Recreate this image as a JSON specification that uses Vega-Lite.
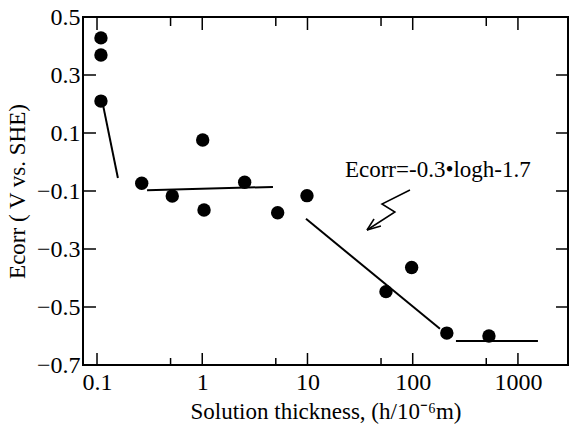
{
  "$schema": "https://vega.github.io/schema/vega-lite/v6.json",
  "autosize": "none",
  "width": 485,
  "height": 348,
  "padding": {"left": 83, "top": 17, "right": 2, "bottom": 65},
  "background": "white",
  "config": {
    "view": {"stroke": "black", "strokeWidth": 2},
    "font": "Liberation Serif",
    "axis": {"domain": false, "grid": false, "ticks": false, "labelColor": "black", "titleColor": "black", "labelFont": "Liberation Serif", "titleFont": "Liberation Serif", "labelFontSize": 24, "titleFontSize": 23, "titleFontWeight": "normal"}
  },
  "datasets": {
    "points": [
      {"h": 0.109, "E": 0.428},
      {"h": 0.109, "E": 0.369},
      {"h": 0.109, "E": 0.210},
      {"h": 0.266, "E": -0.0735},
      {"h": 0.519, "E": -0.117},
      {"h": 1.01, "E": 0.076},
      {"h": 1.04, "E": -0.1655},
      {"h": 2.53, "E": -0.070},
      {"h": 5.21, "E": -0.175},
      {"h": 9.89, "E": -0.116},
      {"h": 55.7, "E": -0.447},
      {"h": 97.7, "E": -0.364},
      {"h": 211, "E": -0.590},
      {"h": 530, "E": -0.600}
    ],
    "fits": [
      {"seg": "a", "i": 0, "h": 0.114, "E": 0.197},
      {"seg": "a", "i": 1, "h": 0.158, "E": -0.055},
      {"seg": "b", "i": 0, "h": 0.299, "E": -0.097},
      {"seg": "b", "i": 1, "h": 4.70, "E": -0.086},
      {"seg": "c", "i": 0, "h": 9.68, "E": -0.196},
      {"seg": "c", "i": 1, "h": 181.5, "E": -0.575},
      {"seg": "d", "i": 0, "h": 257.6, "E": -0.617},
      {"seg": "d", "i": 1, "h": 1549, "E": -0.617}
    ],
    "arrow": [
      {"part": "zig", "i": 0, "h": 94.2, "E": -0.0966},
      {"part": "zig", "i": 1, "h": 51.0, "E": -0.1448},
      {"part": "zig", "i": 2, "h": 67.8, "E": -0.1724},
      {"part": "zig", "i": 3, "h": 36.8, "E": -0.2345},
      {"part": "arm1", "i": 0, "h": 42.9, "E": -0.1966},
      {"part": "arm1", "i": 1, "h": 36.8, "E": -0.2345},
      {"part": "arm2", "i": 0, "h": 49.9, "E": -0.2207},
      {"part": "arm2", "i": 1, "h": 36.8, "E": -0.2345}
    ],
    "note": [
      {"h": 22.7, "E": -0.028, "text": "Ecorr=-0.3•logh-1.7"}
    ],
    "ticks": [
      {"tk": "b1", "i": 0, "h": 0.1, "E": -0.7}, {"tk": "b1", "i": 1, "h": 0.1, "E": -0.6586},
      {"tk": "b2", "i": 0, "h": 0.5, "E": -0.7}, {"tk": "b2", "i": 1, "h": 0.5, "E": -0.6759},
      {"tk": "b3", "i": 0, "h": 1, "E": -0.7}, {"tk": "b3", "i": 1, "h": 1, "E": -0.6586},
      {"tk": "b4", "i": 0, "h": 5, "E": -0.7}, {"tk": "b4", "i": 1, "h": 5, "E": -0.6759},
      {"tk": "b5", "i": 0, "h": 10, "E": -0.7}, {"tk": "b5", "i": 1, "h": 10, "E": -0.6586},
      {"tk": "b6", "i": 0, "h": 50, "E": -0.7}, {"tk": "b6", "i": 1, "h": 50, "E": -0.6759},
      {"tk": "b7", "i": 0, "h": 100, "E": -0.7}, {"tk": "b7", "i": 1, "h": 100, "E": -0.6586},
      {"tk": "b8", "i": 0, "h": 500, "E": -0.7}, {"tk": "b8", "i": 1, "h": 500, "E": -0.6759},
      {"tk": "b9", "i": 0, "h": 1000, "E": -0.7}, {"tk": "b9", "i": 1, "h": 1000, "E": -0.6586},
      {"tk": "t1", "i": 0, "h": 0.1, "E": 0.5}, {"tk": "t1", "i": 1, "h": 0.1, "E": 0.4552},
      {"tk": "t2", "i": 0, "h": 0.5, "E": 0.5}, {"tk": "t2", "i": 1, "h": 0.5, "E": 0.469},
      {"tk": "t3", "i": 0, "h": 1, "E": 0.5}, {"tk": "t3", "i": 1, "h": 1, "E": 0.4552},
      {"tk": "t4", "i": 0, "h": 5, "E": 0.5}, {"tk": "t4", "i": 1, "h": 5, "E": 0.469},
      {"tk": "t5", "i": 0, "h": 10, "E": 0.5}, {"tk": "t5", "i": 1, "h": 10, "E": 0.4552},
      {"tk": "t6", "i": 0, "h": 50, "E": 0.5}, {"tk": "t6", "i": 1, "h": 50, "E": 0.469},
      {"tk": "t7", "i": 0, "h": 100, "E": 0.5}, {"tk": "t7", "i": 1, "h": 100, "E": 0.4552},
      {"tk": "t8", "i": 0, "h": 500, "E": 0.5}, {"tk": "t8", "i": 1, "h": 500, "E": 0.469},
      {"tk": "t9", "i": 0, "h": 1000, "E": 0.5}, {"tk": "t9", "i": 1, "h": 1000, "E": 0.4552},
      {"tk": "l1", "i": 0, "h": 0.0736, "E": -0.5}, {"tk": "l1", "i": 1, "h": 0.0978, "E": -0.5},
      {"tk": "l2", "i": 0, "h": 0.0736, "E": -0.3}, {"tk": "l2", "i": 1, "h": 0.0978, "E": -0.3},
      {"tk": "l3", "i": 0, "h": 0.0736, "E": -0.1}, {"tk": "l3", "i": 1, "h": 0.0978, "E": -0.1},
      {"tk": "l4", "i": 0, "h": 0.0736, "E": 0.1}, {"tk": "l4", "i": 1, "h": 0.0978, "E": 0.1},
      {"tk": "l5", "i": 0, "h": 0.0736, "E": 0.3}, {"tk": "l5", "i": 1, "h": 0.0978, "E": 0.3},
      {"tk": "r1", "i": 0, "h": 2990, "E": -0.5}, {"tk": "r1", "i": 1, "h": 2300, "E": -0.5},
      {"tk": "r2", "i": 0, "h": 2990, "E": -0.3}, {"tk": "r2", "i": 1, "h": 2300, "E": -0.3},
      {"tk": "r3", "i": 0, "h": 2990, "E": -0.1}, {"tk": "r3", "i": 1, "h": 2300, "E": -0.1},
      {"tk": "r4", "i": 0, "h": 2990, "E": 0.1}, {"tk": "r4", "i": 1, "h": 2300, "E": 0.1},
      {"tk": "r5", "i": 0, "h": 2990, "E": 0.3}, {"tk": "r5", "i": 1, "h": 2300, "E": 0.3}
    ]
  },
  "resolve": {"axis": {"x": "independent", "y": "independent"}},
  "layer": [
    {
      "data": {"name": "fits"},
      "mark": {"type": "line", "color": "black", "strokeWidth": 2},
      "encoding": {
        "x": {"field": "h", "type": "quantitative",
          "scale": {"type": "log", "domain": [0.0736, 2990], "nice": false},
          "axis": {"orient": "bottom", "title": "Solution thickness, (h/10⁻⁶m)",
            "values": [0.1, 1, 10, 100, 1000],
            "format": "~g",
            "labelPadding": 5, "titlePadding": 6, "labelFlush": false, "labelOverlap": false}},
        "y": {"field": "E", "type": "quantitative",
          "scale": {"domain": [-0.7, 0.5], "nice": false, "zero": false},
          "axis": {"orient": "left", "title": "Ecorr ( V vs. SHE)",
            "values": [-0.7, -0.5, -0.3, -0.1, 0.1, 0.3, 0.5],
            "format": ".1f", "labelPadding": 3, "titlePadding": 7, "labelFlush": false, "labelOverlap": false}},
        "detail": {"field": "seg"},
        "order": {"field": "i"}
      }
    },
    {
      "data": {"name": "ticks"},
      "mark": {"type": "line", "color": "black", "strokeWidth": 1.5, "strokeCap": "butt"},
      "encoding": {
        "x": {"field": "h", "type": "quantitative", "axis": null},
        "y": {"field": "E", "type": "quantitative", "axis": null},
        "detail": {"field": "tk"},
        "order": {"field": "i"}
      }
    },
    {
      "data": {"name": "arrow"},
      "mark": {"type": "line", "color": "black", "strokeWidth": 1.5},
      "encoding": {
        "x": {"field": "h", "type": "quantitative", "axis": null},
        "y": {"field": "E", "type": "quantitative", "axis": null},
        "detail": {"field": "part"},
        "order": {"field": "i"}
      }
    },
    {
      "data": {"name": "points"},
      "mark": {"type": "circle", "color": "black", "size": 180, "opacity": 1},
      "encoding": {
        "x": {"field": "h", "type": "quantitative", "axis": null},
        "y": {"field": "E", "type": "quantitative", "axis": null}
      }
    },
    {
      "data": {"name": "note"},
      "mark": {"type": "text", "align": "left", "baseline": "middle", "fontSize": 23, "font": "Liberation Serif", "color": "black"},
      "encoding": {
        "x": {"field": "h", "type": "quantitative", "axis": null},
        "y": {"field": "E", "type": "quantitative", "axis": null},
        "text": {"field": "text"}
      }
    }
  ]
}
